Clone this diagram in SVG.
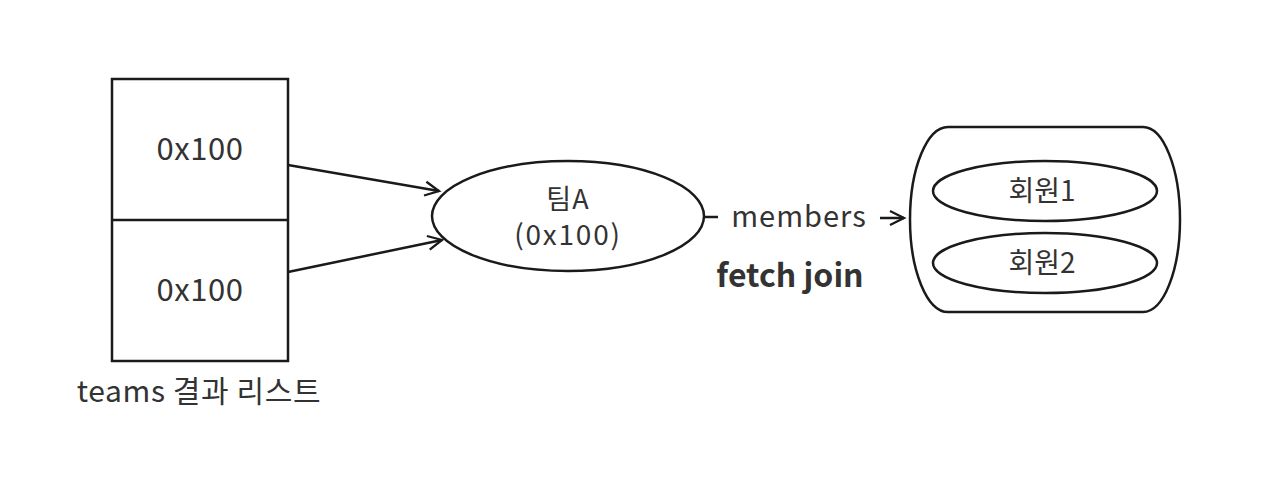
<svg xmlns="http://www.w3.org/2000/svg" width="1280" height="497" viewBox="0 0 1280 497">
<style>
.s{fill:none;stroke:#1a1a1a;stroke-width:2.5}
.t{font-family:"Noto Sans CJK KR","Noto Sans",sans-serif;fill:#333;text-anchor:middle}
</style>
<defs>
<marker id="ah" markerUnits="userSpaceOnUse" markerWidth="20" markerHeight="20" refX="15" refY="8" orient="auto" viewBox="0 0 20 16">
<path d="M1,1 L15,8 L1,15" fill="none" stroke="#1a1a1a" stroke-width="2.3"/>
</marker>
</defs>
<rect width="1280" height="497" fill="#fff"/>
<g id="teams-list">
<rect class="s" x="112" y="79" width="176" height="282"/>
<line class="s" x1="112" y1="220" x2="288" y2="220"/>
<text class="t" x="200" y="160" font-size="31" letter-spacing="0.5">0x100</text>
<text class="t" x="200" y="301" font-size="31" letter-spacing="0.5">0x100</text>
<text class="t" x="199" y="402" font-size="30" letter-spacing="0.6">teams 결과 리스트</text>
</g>
<g id="teamA">
<ellipse class="s" cx="568" cy="216" rx="136" ry="55"/>
<text class="t" x="568" y="209" font-size="27" letter-spacing="1">팀A</text>
<text class="t" x="568" y="245" font-size="28" letter-spacing="1.8">(0x100)</text>
</g>
<g id="members">
<path class="s" d="M948,127 H1143 A37,92.5 0 0 1 1143,312 H948 A38,92.5 0 0 1 948,127 Z"/>
<g id="member1">
<ellipse class="s" cx="1045" cy="191" rx="112" ry="30"/>
<text class="t" x="1042" y="201" font-size="28">회원1</text>
</g>
<g id="member2">
<ellipse class="s" cx="1045" cy="263" rx="112" ry="30"/>
<text class="t" x="1042" y="273" font-size="28">회원2</text>
</g>
</g>
<g id="connectors">
<line class="s" x1="288" y1="165" x2="439" y2="191" marker-end="url(#ah)"/>
<line class="s" x1="288" y1="272" x2="442" y2="240" marker-end="url(#ah)"/>
<line class="s" x1="704" y1="217" x2="718" y2="217"/>
<line class="s" x1="880" y1="218" x2="904" y2="218" marker-end="url(#ah)"/>
<text class="t" x="799" y="227" font-size="29" letter-spacing="1">members</text>
<text class="t" x="790" y="287" font-size="32" font-weight="bold" fill="#111">fetch join</text>
</g>
</svg>
